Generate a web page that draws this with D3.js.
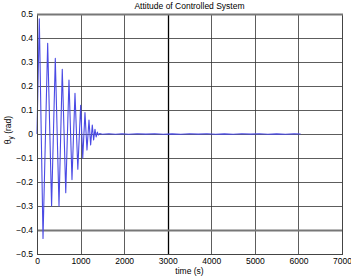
<!DOCTYPE html>
<html><head><meta charset="utf-8">
<script src="https://cdn.jsdelivr.net/npm/d3@7"></script>
<style>
html,body{margin:0;padding:0;background:#fff;}
svg text{font-family:"Liberation Sans",Arial,sans-serif;fill:#000;}
</style></head>
<body><svg id="c" width="351" height="279"></svg>
<script>
const timeS = [0, 53, 138, 245, 335, 420, 505, 580, 660, 734, 803, 872, 937, 1002, 1050, 1101, 1147, 1193, 1231, 1269, 1300, 1330, 1358, 1385, 1410, 1440,
  1500, 1650, 1800, 1950, 2100, 2300, 2500, 2700, 2900, 3100, 3300, 3500, 3700, 3900, 4100, 4300, 4500, 4700, 4900, 5100, 5300, 5500, 5700, 5900, 6050];
const thetaY = [0.0, 0.48, -0.435, 0.378, -0.30, 0.315, -0.30, 0.27, -0.245, 0.225, -0.19, 0.17, -0.147, 0.12, -0.10, 0.089, -0.067, 0.058, -0.046, 0.037, -0.025, 0.02, -0.012, 0.008, -0.004, 0.002,
  -0.0008, 0.0008, -0.0008, 0.0008, -0.0008, 0.0008, -0.0006, 0.0008, -0.0008, 0.0006, -0.0008, 0.0008, -0.0006, 0.0008, -0.0008, 0.0006, -0.0008, 0.0008, -0.0006, 0.0008, -0.0008, 0.0006, -0.0008, 0.0006, 0.0];
const xTicks = [0, 1000, 2000, 3000, 4000, 5000, 6000, 7000];
const yTicks = [-0.5, -0.4, -0.3, -0.2, -0.1, 0, 0.1, 0.2, 0.3, 0.4, 0.5];
const titleText = "Attitude of Controlled System";
const xLabel = "time (s)";

const svg = d3.select("#c");
const L = 37, R = 342, T = 14, B = 254;
const x = d3.scaleLinear().domain([0, 7000]).range([L, R]);
const y = d3.scaleLinear().domain([-0.5, 0.5]).range([B, T]);

const g = svg.append("g");
// grid
g.selectAll(".gx").data(xTicks).enter().append("line")
  .attr("x1", d => Math.round(x(d)) + 0.5).attr("x2", d => Math.round(x(d)) + 0.5)
  .attr("y1", T).attr("y2", B)
  .attr("stroke", d => d === 3000 ? "#000" : "#333").attr("stroke-width", d => d === 3000 ? 1.3 : 0.8);
g.selectAll(".gy").data(yTicks).enter().append("line")
  .attr("y1", d => Math.round(y(d)) + 0.5).attr("y2", d => Math.round(y(d)) + 0.5)
  .attr("x1", L).attr("x2", R)
  .attr("stroke", d => d === -0.4 ? "#777" : "#333").attr("stroke-width", d => d === -0.4 ? 1.8 : 0.8);

// data line
const line = d3.line().x((d, i) => x(timeS[i])).y(d => y(d));
g.append("path").datum(thetaY).attr("d", line)
  .attr("fill", "none").attr("stroke", "#4a4ae4").attr("stroke-width", 1.1).attr("stroke-linejoin", "round");

// box
g.append("rect").attr("x", L + 0.5).attr("y", T + 0.5).attr("width", R - L).attr("height", B - T)
  .attr("fill", "none").attr("stroke", "#444").attr("stroke-width", 1);
g.append("line").attr("x1", L).attr("x2", R + 1).attr("y1", T + 0.5).attr("y2", T + 0.5)
  .attr("stroke", "#777").attr("stroke-width", 2);

// axes ticks
const xAxis = d3.axisBottom(x).tickValues(xTicks).tickSize(0).tickPadding(4).tickFormat(d3.format("d"));
const ax = svg.append("g").attr("transform", `translate(0,${B})`).call(xAxis);
ax.select(".domain").remove();
ax.selectAll("text").attr("font-size", "8.5px").attr("font-family", "Liberation Sans, Arial, sans-serif");

const yAxis = d3.axisLeft(y).tickValues(yTicks).tickSize(0).tickPadding(4).tickFormat(d => d === 0 ? "0" : d3.format(".1f")(d));
const ay = svg.append("g").attr("transform", `translate(${L},0)`).call(yAxis);
ay.select(".domain").remove();
ay.selectAll("text").attr("font-size", "8.5px").attr("font-family", "Liberation Sans, Arial, sans-serif");

// title and labels
svg.append("text").attr("x", (L + R) / 2).attr("y", 9).attr("text-anchor", "middle")
  .attr("font-size", "8.5px").text(titleText);
svg.append("text").attr("x", (L + R) / 2).attr("y", 274).attr("text-anchor", "middle")
  .attr("font-size", "8.5px").text(xLabel);
const yl = svg.append("text").attr("transform", "translate(11,130) rotate(-90)").attr("text-anchor", "middle")
  .attr("font-size", "8.5px");
yl.append("tspan").text("θ");
yl.append("tspan").attr("font-size", "6.5px").attr("dy", 2).text("y");
yl.append("tspan").attr("dy", -2).text(" (rad)");
</script></body></html>
